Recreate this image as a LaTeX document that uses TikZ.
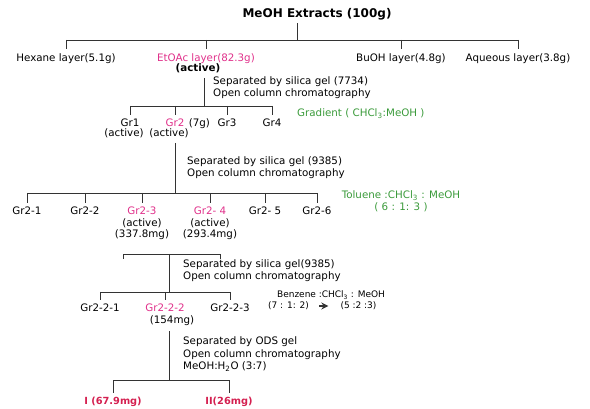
\documentclass[tikz,border=0pt]{standalone}
\usepackage{fontspec}
\setmainfont{DejaVu Sans}
\usetikzlibrary{positioning,arrows.meta}
\definecolor{pinkc}{HTML}{E0308A}
\definecolor{redc}{HTML}{D42050}
\definecolor{greenc}{HTML}{3A9A3A}

\begin{document}
\begin{tikzpicture}[x=1pt, y=-1pt,
    lbl/.style={font=\fontsize{10.3}{11.5}\selectfont, inner xsep=1pt, inner ysep=4pt, align=center, anchor=north},
    sub/.style={font=\fontsize{10.3}{11.5}\selectfont, inner sep=0pt},
    note/.style={font=\fontsize{10.3}{12}\selectfont, inner sep=0pt, align=left, anchor=west},
    solvent/.style={note, text=greenc},
    line/.style={draw=black!80, line width=0.9pt},
    stem/.style={line, shorten <=5pt}
]
\useasboundingbox (0,0) rectangle (590,409);

% Crude extract and partition
\node[font=\bfseries\fontsize{12}{14}\selectfont, inner sep=3pt] (title) at (317,14) {MeOH Extracts (100g)};
\coordinate (j0) at (297,40);
\node[lbl] (hex) at (66,49) {Hexane layer(5.1g)};
\node[lbl, text=pinkc] (etoac) at (206,49) {EtOAc layer(82.3g)};
\node[lbl] (buoh) at (401,49) {BuOH layer(4.8g)};
\node[lbl] (aq) at (518,49) {Aqueous layer(3.8g)};
\node[sub, font=\bfseries\fontsize{10.3}{11.5}\selectfont] (etact) at (198,68) {(active)};

\draw[line] (j0 |- title.south) -- (j0);
\draw[line] (hex.north |- j0) -- (aq.north |- j0);
\foreach \n in {hex,etoac,buoh,aq}
    \draw[line] (\n.north |- j0) -- (\n.north);

% Silica gel (7734)
\coordinate (j1) at (204,106);
\draw[stem] (j1 |- etact.south) -- (j1);
\node[note] (sep1) at (213,88) {Separated by silica gel (7734)\\Open column chromatography};
\node[solvent] (grad) at (297,114) {Gradient ( CHCl\textsubscript{3}:MeOH )};

\node[lbl] (gr1) at (130,115) {Gr1};
\node[lbl, text=pinkc] (gr2) at (175,115) {Gr2};
\node[lbl] (gr3) at (227,115) {Gr3};
\node[lbl] (gr4) at (272,115) {Gr4};
\node[sub, anchor=base west] (gr2w) at ([xshift=3pt]gr2.base east) {(7g)};
\node[sub] (gr1act) at (124,133) {(active)};
\node[sub] (gr2act) at (169,133) {(active)};

\draw[line] (gr1.north |- j1) -- (gr4.north |- j1);
\foreach \n in {gr1,gr2,gr3,gr4}
    \draw[line] (\n.north |- j1) -- (\n.north);

% Silica gel (9385)
\coordinate (j2) at (175,193);
\draw[stem] (j2 |- gr2act.south) -- (j2);
\node[note] (sep2) at (187,167.5) {Separated by silica gel (9385)\\Open column chromatography};
\node[solvent, anchor=center, align=center] (tol) at (401,201.5) {Toluene :CHCl\textsubscript{3} : MeOH\\( 6 : 1: 3 )};

\node[lbl] (g21) at (27,203) {Gr2-1};
\node[lbl] (g22) at (85,203) {Gr2-2};
\node[lbl] (g23) at (142,203) {\textcolor{pinkc}{Gr2-3}\\(active)\\(337.8mg)};
\node[lbl] (g24) at (210,203) {\textcolor{pinkc}{Gr2- 4}\\(active)\\(293.4mg)};
\node[lbl] (g25) at (265,203) {Gr2- 5};
\node[lbl] (g26) at (317,203) {Gr2-6};

\draw[line] (g21.north |- j2) -- (g26.north |- j2);
\foreach \n in {g21,g22,g23,g24,g25,g26}
    \draw[line] (\n.north |- j2) -- (\n.north);

% Pooled Gr2-3 and Gr2-4
\coordinate (b1) at (123,254);
\coordinate (b2) at (220,254);
\coordinate (j3) at (169,254);
\coordinate (j4) at (169,292);
\draw[line] ([yshift=-5pt]b1) -- (b1) -- (b2) -- ([yshift=-5pt]b2);
\draw[line] (j3) -- (j4);
\node[note] (sep3) at (183,271) {Separated by silica gel(9385)\\Open column chromatography};

\node[lbl] (g221) at (100,300) {Gr2-2-1};
\node[lbl, text=pinkc] (g222) at (165,300) {Gr2-2-2};
\node[lbl] (g223) at (230,300) {Gr2-2-3};
\node[sub] (g222w) at (172,321) {(154mg)};

\draw[line] (g221.north |- j4) -- (g223.north |- j4);
\foreach \n in {g221,g222,g223}
    \draw[line] (\n.north |- j4) -- (\n.north);

% Benzene gradient
\node[sub, font=\fontsize{9}{11}\selectfont] (benz) at (331,295) {Benzene :CHCl\textsubscript{3} : MeOH};
\node[sub, font=\fontsize{9}{11}\selectfont] (r1) at (288.5,306) {(7 : 1: 2)};
\node[sub, font=\fontsize{9}{11}\selectfont] (r2) at (358.5,306) {(5 :2 :3)};
\draw[line, line width=1.3pt, -{Stealth[length=7pt,width=7pt]}, shorten <=10pt, shorten >=12pt] (r1) -- (r2);

% ODS gel
\coordinate (j5) at (169,380);
\draw[stem] (j5 |- g222w.south) -- (j5);
\node[note, font=\fontsize{10.3}{12.5}\selectfont] (sep4) at (183,354.5) {Separated by ODS gel\\Open column chromatography\\MeOH:H\textsubscript{2}O (3:7)};

\node[lbl, text=redc, font=\bfseries\fontsize{9.8}{11.5}\selectfont] (c1) at (113,393) {I (67.9mg)};
\node[lbl, text=redc, font=\bfseries\fontsize{9.8}{11.5}\selectfont] (c2) at (229,393) {II(26mg)};

\draw[line] (c1.north |- j5) -- (c2.north |- j5);
\foreach \n in {c1,c2}
    \draw[line] (\n.north |- j5) -- (\n.north);

\end{tikzpicture}
\end{document}
